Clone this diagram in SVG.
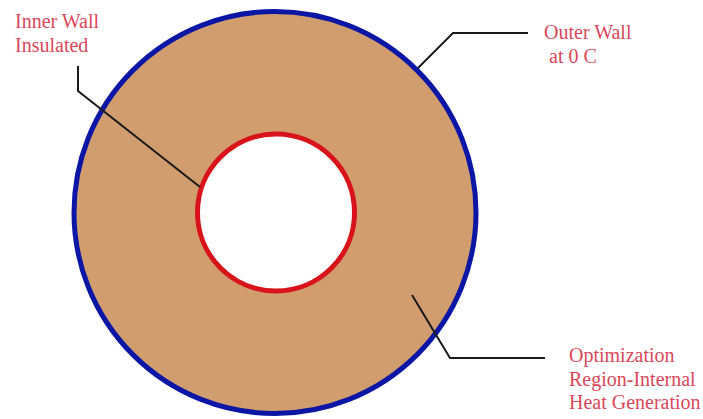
<svg xmlns="http://www.w3.org/2000/svg" width="703" height="419" viewBox="0 0 703 419">
<style>
.lbl{font-family:"Liberation Serif","Times New Roman",serif;font-size:20px;fill:#d9485a}
.lead{fill:none;stroke:#1a1a1a;stroke-width:2}
</style>
<rect width="703" height="419" fill="#ffffff"/>
<g id="outer-wall">
<circle cx="275" cy="212.5" r="201" fill="#d19d6f" stroke="#0b16a4" stroke-width="5"/>
</g>
<g id="inner-wall">
<circle cx="276" cy="212.5" r="78.5" fill="#ffffff" stroke="#d8141a" stroke-width="5"/>
</g>
<g id="connectors">
<polyline class="lead" points="78,66 78,91 200,187"/>
<polyline class="lead" points="528,33 453,33 418,68"/>
<polyline class="lead" points="412,295 450,358 545,358"/>
</g>
<g id="label-inner">
<text class="lbl" x="15" y="28">Inner Wall</text>
<text class="lbl" x="15" y="52">Insulated</text>
</g>
<g id="label-outer">
<text class="lbl" x="544" y="39">Outer Wall</text>
<text class="lbl" x="549" y="63">at 0 C</text>
</g>
<g id="label-region">
<text class="lbl" x="569" y="362">Optimization</text>
<text class="lbl" x="569" y="385.5">Region-Internal</text>
<text class="lbl" x="569" y="409">Heat Generation</text>
</g>
</svg>
